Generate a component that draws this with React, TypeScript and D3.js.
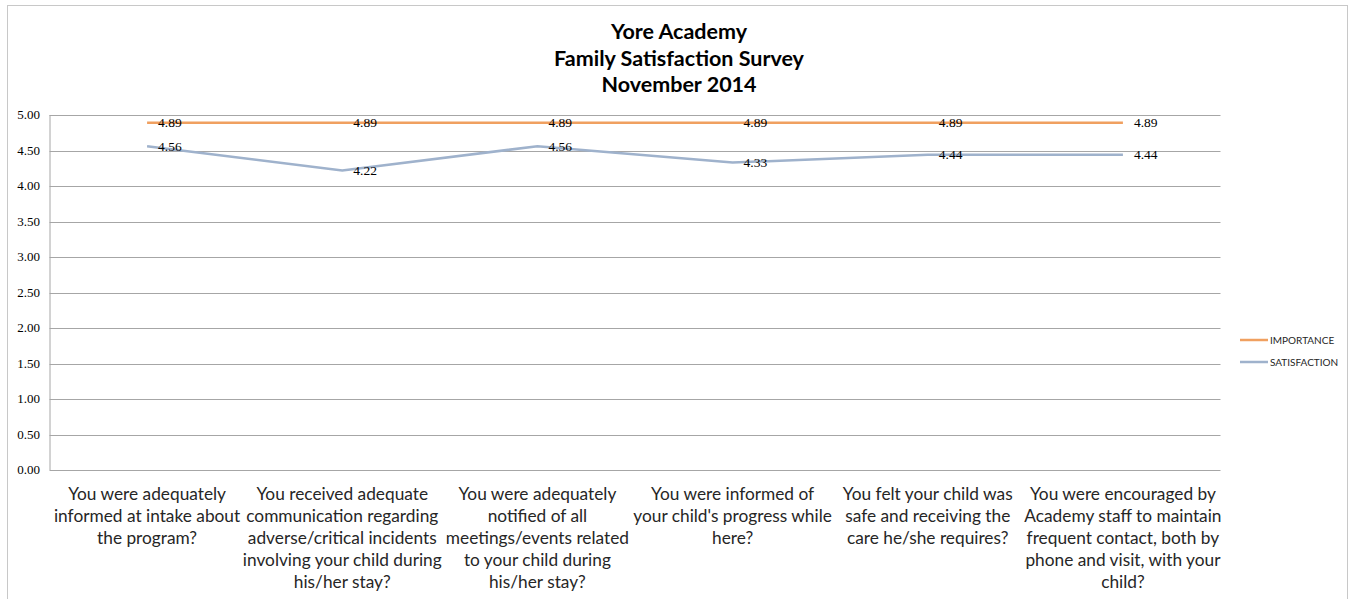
import React from "react";
import * as d3 from "d3";

const categories: string[][] = [
  ["You were adequately", "informed at intake about", "the program?"],
  ["You received adequate", "communication regarding", "adverse/critical incidents", "involving your child during", "his/her stay?"],
  ["You were adequately", "notified of all", "meetings/events related", "to your child during", "his/her stay?"],
  ["You were informed of", "your child's progress while", "here?"],
  ["You felt your child was", "safe and receiving the", "care he/she requires?"],
  ["You were encouraged by", "Academy staff to maintain", "frequent contact, both by", "phone and visit, with your", "child?"],
];
const importance = [4.89, 4.89, 4.89, 4.89, 4.89, 4.89];
const satisfaction = [4.56, 4.22, 4.56, 4.33, 4.44, 4.44];
const yTicks = [0, 0.5, 1, 1.5, 2, 2.5, 3, 3.5, 4, 4.5, 5];
const seriesNames = ["IMPORTANCE", "SATISFACTION"];
const seriesColors = ["#f0a060", "#9fb2cc"];
const titleLines = ["Yore Academy", "Family Satisfaction Survey", "November 2014"];

export default function App() {
  const W = 1355, H = 599;
  const left = 49.5, right = 1220.5, top = 115, bottom = 470;
  const x = d3.scaleBand<number>().domain(d3.range(categories.length)).range([left, right]);
  const y = d3.scaleLinear().domain([0, 5]).range([bottom, top]);
  const cx = (i: number) => (x(i) as number) + x.bandwidth() / 2;
  const line = d3.line<number>().x((_, i) => cx(i)).y((d) => y(d));
  const series = [importance, satisfaction];
  const sans = "Lato, Carlito, Calibri, sans-serif";
  const serif = "Liberation Serif, Times New Roman, serif";
  return (
    <svg width={W} height={H} style={{ position: "absolute", left: 0, top: 0 }}>
      <rect x={0} y={0} width={W} height={H} fill="#fff" />
      <rect x={7.5} y={5.5} width={1340} height={620} fill="none" stroke="#c8c8c8" />
      {titleLines.map((t, i) => (
        <text key={i} x={679} y={39 + i * 26.5} textAnchor="middle" fontFamily={sans} fontWeight="bold" fontSize={21.5} fill="#000">{t}</text>
      ))}
      {yTicks.map((t) => (
        <g key={t}>
          <line x1={left} x2={right} y1={Math.round(y(t)) + 0.5} y2={Math.round(y(t)) + 0.5} stroke="#a6a6a6" />
          <text x={40} y={y(t) + 4} textAnchor="end" fontFamily={serif} fontSize={13} fill="#000">{t.toFixed(2)}</text>
        </g>
      ))}
      <line x1={left + 0.5} x2={left + 0.5} y1={top} y2={bottom} stroke="#a6a6a6" />
      {series.map((s, si) => (
        <path key={si} d={line(s) || ""} fill="none" stroke={seriesColors[si]} strokeWidth={2.5} />
      ))}
      {series.map((s, si) =>
        s.map((v, i) => (
          <text key={si + "-" + i} x={cx(i) + 11} y={y(v) + 4.5} fontFamily={serif} fontSize={13.5} fill="#000">{v.toFixed(2)}</text>
        ))
      )}
      {categories.map((lines, i) =>
        lines.map((l, j) => (
          <text key={i + "-" + j} x={cx(i)} y={500 + j * 22} textAnchor="middle" fontFamily={sans} fontSize={17.3} fill="#262626">{l}</text>
        ))
      )}
      {seriesNames.map((n, i) => (
        <g key={n}>
          <line x1={1240} x2={1268} y1={340 + i * 22} y2={340 + i * 22} stroke={seriesColors[i]} strokeWidth={2.5} />
          <text x={1270} y={344 + i * 22} fontFamily={sans} fontSize={10} fill="#262626">{n}</text>
        </g>
      ))}
    </svg>
  );
}
